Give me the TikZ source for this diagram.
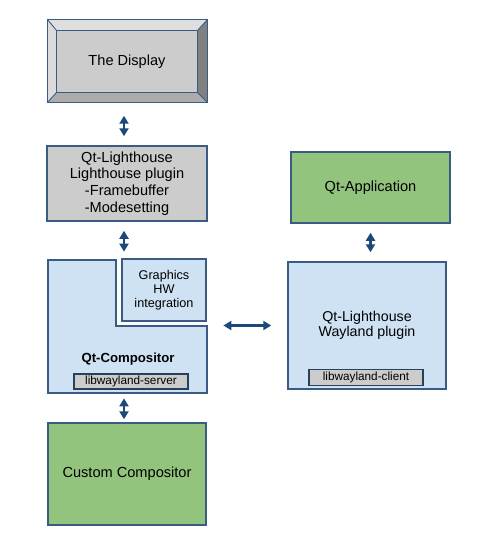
\documentclass[tikz,border=0pt]{standalone}
\usepackage{fontspec}
\setmainfont{Liberation Sans}
\usetikzlibrary{arrows.meta}
\definecolor{edge}{HTML}{3A5C84}
\definecolor{navy}{HTML}{1B4A78}
\definecolor{paleblue}{HTML}{CFE2F3}
\definecolor{leaf}{HTML}{93C47D}
\definecolor{stone}{HTML}{CCCCCC}
\begin{document}
\begin{tikzpicture}[x=0.2mm,y=-0.2mm,
  box/.style={draw=edge, line width=0.85pt, inner sep=0pt, align=center, font=\fontsize{8.3}{9.5}\selectfont},
  lib/.style={draw=edge!70!black, line width=0.6pt, fill=stone, inner sep=0pt, font=\fontsize{6.7}{8}\selectfont},
  link/.style={draw=navy, line width=1.3pt, {Triangle[length=1.6mm,width=1.8mm]}-{Triangle[length=1.6mm,width=1.8mm]}}]
\useasboundingbox (0,0) rectangle (480,558);

% the display, with a bevelled frame
\node[box, fill=stone, minimum width=31.8mm, minimum height=16.4mm] (disp) at (127.5,61) {};
\node[inner sep=0pt, minimum width=28mm, minimum height=12.2mm] (face) at (127,61.5) {};
\fill[gray!25] (disp.north west) -- (disp.north east) -- (face.north east) -- (face.north west) -- cycle;
\fill[gray!28] (disp.north west) -- (face.north west) -- (face.south west) -- (disp.south west) -- cycle;
\fill[gray!100] (disp.north east) -- (disp.south east) -- (face.south east) -- (face.north east) -- cycle;
\fill[gray!65] (disp.south west) -- (face.south west) -- (face.south east) -- (disp.south east) -- cycle;
\draw[edge, line width=0.85pt] (disp.north west) rectangle (disp.south east);
\draw[edge, line width=0.6pt] (face.north west) rectangle (face.south east);
\draw[edge, line width=0.5pt] (disp.north west) -- (face.north west) (disp.north east) -- (face.north east)
  (disp.south west) -- (face.south west) (disp.south east) -- (face.south east);
\node[font=\fontsize{8.3}{9.5}\selectfont] (disptext) at (face) {The Display};

\node[box, fill=stone, minimum width=32mm, minimum height=15mm] (lhp) at (127,183.5) {Qt-Lighthouse\\Lighthouse plugin\\-Framebuffer\\-Modesetting};

% compositor, an L shape round the graphics box
\node[inner sep=0pt, minimum width=31.8mm, minimum height=26.6mm] (comp) at (127.5,326.5) {};
\path[draw=edge, line width=0.85pt, fill=paleblue] (48,260) -- (116,260) -- (116,326) -- (207,326) -- (207,393) -- (48,393) -- cycle;
\node[box, fill=paleblue, minimum width=16.8mm, minimum height=12.4mm, font=\fontsize{7.2}{7.9}\selectfont] (gfx) at (164,290) {Graphics\\HW\\integration};
\node[font=\bfseries\fontsize{7.5}{9}\selectfont] (comptext) at (128,359) {Qt-Compositor};
\node[lib, minimum width=22.8mm, minimum height=3mm] (srv) at (131,381.5) {libwayland-server};

\node[box, fill=leaf, minimum width=31.6mm, minimum height=20.4mm] (cust) at (127,474) {Custom Compositor};

\node[box, fill=leaf, minimum width=31.8mm, minimum height=14.2mm] (app) at (370.5,187.5) {Qt-Application};
\node[box, fill=paleblue, minimum width=31.6mm, minimum height=25.4mm, font=\fontsize{8.1}{8.6}\selectfont] (wlp) at (367,325.5) {Qt-Lighthouse\\Wayland plugin};
\node[lib, minimum width=22.8mm, minimum height=3.2mm] (cli) at (366,377.5) {libwayland-client};

\path[link, shorten <=2.6mm, shorten >=1.8mm] ([xshift=-0.7mm]disp.south) -- ([xshift=-0.7mm]disp.south |- lhp.north);
\path[link, shorten <=1.8mm, shorten >=1.6mm] ([xshift=-0.6mm]lhp.south) -- ([xshift=-0.6mm]lhp.south |- comp.north);
\path[link, shorten <=1mm, shorten >=0.6mm] ([xshift=-0.7mm]comp.south) -- ([xshift=-0.7mm]comp.south |- cust.north);
\path[link, shorten <=1.8mm, shorten >=1.8mm] (app.south) -- (app.south |- wlp.north);
\path[link, shorten <=3.2mm, shorten >=3.2mm] (comp.east |- wlp.west) -- (wlp.west);
\end{tikzpicture}
\end{document}
